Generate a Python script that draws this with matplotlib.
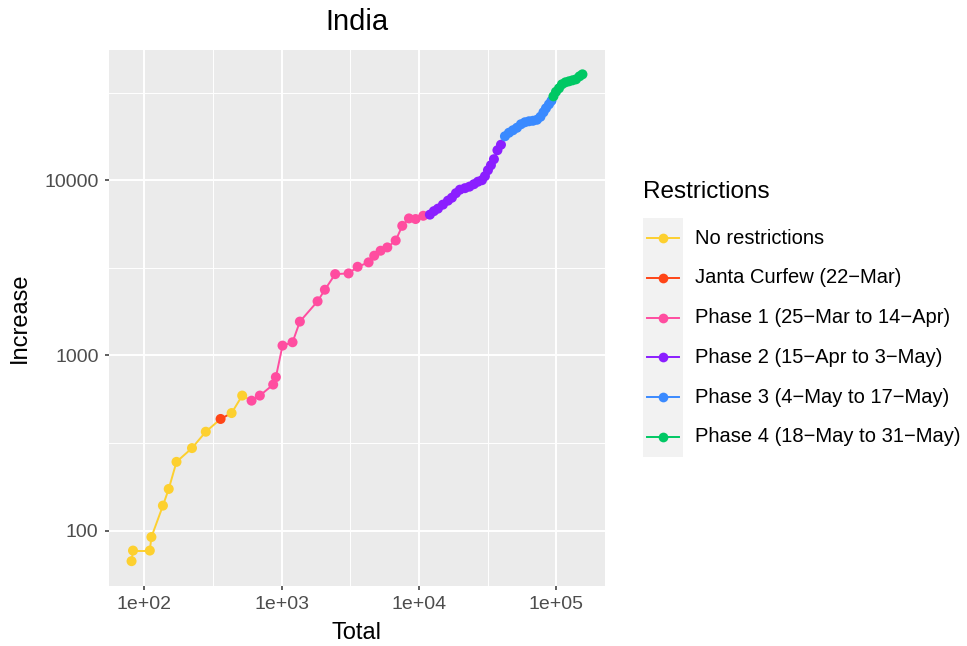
import matplotlib
matplotlib.use('Agg')
import matplotlib.pyplot as plt
from matplotlib.lines import Line2D
from matplotlib.patches import Rectangle
import numpy as np

plt.rcParams['font.family'] = ['Liberation Sans', 'DejaVu Sans']

# legend groups and colours
fases = ['No restrictions', 'Janta Curfew (22\u2212Mar)',
         'Phase 1 (25\u2212Mar to 14\u2212Apr)', 'Phase 2 (15\u2212Apr to 3\u2212May)',
         'Phase 3 (4\u2212May to 17\u2212May)', 'Phase 4 (18\u2212May to 31\u2212May)']
colores = ['#FDD02F', '#FF4517', '#FF4DA0', '#8B1EFF', '#3A8AFF', '#00C864']

# cumulative cases (Total) and increase
total = [81, 83, 110, 113, 137, 151, 172, 223, 281, 360, 433, 517,
         605, 695, 869, 909, 1016, 1202, 1359, 1828, 2066, 2455, 3073, 3575,
         4298, 4722, 5255, 5879, 6765, 7554, 8450, 9446, 10740,
         12000, 12835, 13727, 14927, 16234, 17358, 18561, 19849, 21585, 23273,
         25097, 26844, 28703, 30171, 31732, 33366, 35086, 37210, 39465,
         42196, 45120, 48240, 51585, 55150, 58970, 63090, 67450, 72120, 76480,
         80420, 83860, 88180, 91950,
         95100, 99170, 104300, 109650, 116300, 123300, 130800, 138700, 147100, 154600]
aumento = [67, 77, 77, 92, 139, 173, 247, 296, 367, 434, 469, 590,
           552, 590, 682, 752, 1138, 1189, 1560, 2037, 2371, 2911, 2937, 3206,
           3397, 3707, 3958, 4134, 4528, 5490, 6052, 6003, 6265,
           6360, 6659, 6881, 7253, 7643, 7948, 8432, 8829, 9004, 9184,
           9488, 9806, 10000, 10539, 11403, 12175, 13175, 14826, 15933,
           17813, 18652, 19275, 19917, 20855, 21410, 21690, 21830, 22120, 23010,
           24410, 25720, 27100, 28380,
           30100, 31940, 33440, 35240, 36180, 36660, 37140, 37630, 39140, 40180]
fase = [0] * 9 + [1] + [0] * 2 + [2] * 21 + [3] * 19 + [4] * 14 + [5] * 10

W, H = 967, 646
fig = plt.figure(figsize=(W / 100, H / 100), dpi=100)
ax = fig.add_axes([109 / W, 1 - 585.5 / H, (605 - 109) / W, (585.5 - 50) / H])
ax.set_facecolor('#EBEBEB')
ax.set_xscale('log')
ax.set_yscale('log')

# segments take the colour of their starting point
for i in range(len(total) - 1):
    ax.plot(total[i:i + 2], aumento[i:i + 2], color=colores[fase[i]], lw=1.4,
            solid_capstyle='butt', zorder=2)
ax.scatter(total, aumento, c=[colores[f] for f in fase], s=52, linewidths=0, zorder=3)

# ggplot-like 5% expansion in log space
lx = np.log10(total)
ly = np.log10(aumento)
ex = (lx.max() - lx.min()) * 0.05
ey = (ly.max() - ly.min()) * 0.05
ax.set_xlim(10 ** (lx.min() - ex), 10 ** (lx.max() + ex))
ax.set_ylim(10 ** (ly.min() - ey), 10 ** (ly.max() + ey))

ax.set_xticks([1e2, 1e3, 1e4, 1e5])
ax.set_xticklabels(['1e+02', '1e+03', '1e+04', '1e+05'])
ax.set_yticks([100, 1000, 10000])
ax.set_yticklabels(['100', '1000', '10000'])
ax.set_xticks([10 ** 2.5, 10 ** 3.5, 10 ** 4.5], minor=True)
ax.set_yticks([10 ** 2.5, 10 ** 3.5, 10 ** 4.5], minor=True)
ax.tick_params(which='minor', length=0)
ax.tick_params(which='major', length=3, width=1.1, color='#333333',
               labelsize=14, labelcolor='#4D4D4D', pad=4.5)
ax.grid(which='major', color='white', lw=1.4)
ax.grid(which='minor', color='white', lw=0.7)
ax.set_axisbelow(True)
for s in ax.spines.values():
    s.set_visible(False)

fig.text(357 / W, 1 - 22 / H, 'India', ha='center', va='center', size=21)
fig.text(357 / W, 1 - 633 / H, 'Total', ha='center', va='center', size=17)
fig.text(20 / W, 1 - 318 / H, 'Increase', ha='center', va='center', rotation=90, size=17)

# legend
fig.text(643 / W, 1 - 192 / H, 'Restrictions', ha='left', va='center', size=17.5)
fig.add_artist(Rectangle((643 / W, 1 - 457 / H), 40 / W, (457 - 218) / H,
                         transform=fig.transFigure, facecolor='#F2F2F2', edgecolor='none'))
for i, (lab, col) in enumerate(zip(fases, colores)):
    yc = 1 - (238 + 39.8 * i) / H
    fig.add_artist(Line2D([647 / W, 679 / W], [yc, yc], transform=fig.transFigure,
                          color=col, lw=1.4))
    fig.add_artist(Line2D([663 / W], [yc], transform=fig.transFigure, marker='o',
                          markersize=7, color=col, markeredgewidth=0))
    fig.text(695 / W, yc, lab, ha='left', va='center', size=14.5)

fig.savefig('out.png', dpi=100)
